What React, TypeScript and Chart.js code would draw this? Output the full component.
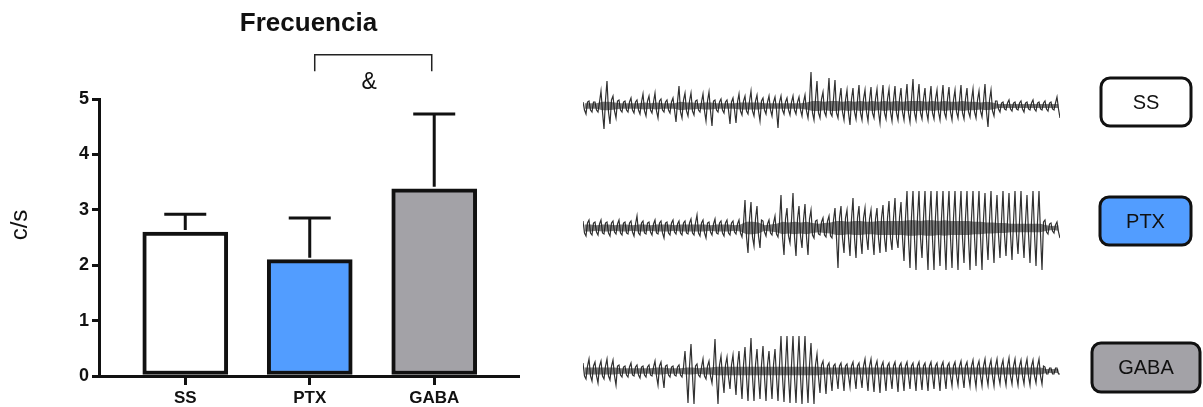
import React, { useEffect, useRef } from 'react';
import { Chart, registerables } from 'chart.js';

Chart.register(...registerables);

// ---------- Bar chart data ----------
const CATEGORIES = ['SS', 'PTX', 'GABA'];
const MEANS = [2.6, 2.1, 3.38];
const SEM = [0.32, 0.75, 1.35];
const BAR_COLORS = ['#ffffff', '#529dff', '#a3a2a7'];
const Y_TICKS = [0, 1, 2, 3, 4, 5];
const TITLE = 'Frecuencia';
const Y_TITLE = 'c/s';
const SIG_MARK = '&';

// ---------- EEG trace envelopes (upper / lower excursion per sample bin, core noise half-width) ----------
const SS_UP = [4, 5, 4, 15, 25, 10, 6, 5, 8, 6, 12, 10, 13, 7, 6, 8, 20, 13, 13, 6, 12, 14, 6, 7, 6, 8, 12, 10, 15, 11, 8, 10, 9, 10, 8, 10, 9, 11, 34, 25, 14, 28, 26, 18, 16, 18, 21, 16, 19, 17, 21, 17, 20, 18, 22, 27, 22, 18, 20, 16, 21, 19, 16, 21, 18, 17, 15, 22, 16, 5, 4, 6, 4, 5, 4, 6, 4, 5, 4, 9];
const SS_DOWN = [-8, -6, -6, -23, -18, -12, -6, -6, -7, -8, -10, -7, -12, -6, -7, -16, -12, -10, -9, -6, -15, -20, -6, -7, -18, -17, -9, -8, -10, -15, -8, -10, -22, -8, -9, -8, -10, -12, -14, -12, -10, -10, -12, -14, -19, -13, -14, -15, -12, -17, -13, -15, -14, -14, -16, -14, -13, -14, -13, -14, -12, -14, -12, -13, -11, -12, -11, -21, -10, -6, -4, -5, -4, -6, -4, -5, -4, -5, -4, -12];
const SS_CORE = [4, 4, 4, 6, 6, 5, 4, 4, 4, 4, 5, 4, 5, 4, 4, 4, 6, 5, 5, 4, 5, 5, 4, 4, 4, 4, 5, 5, 5, 5, 4, 4, 4, 4, 4, 4, 4, 5, 7, 7, 6, 7, 7, 6, 7, 6, 7, 6, 7, 6, 7, 6, 7, 6, 7, 7, 7, 6, 7, 6, 7, 6, 6, 7, 6, 6, 5, 6, 5, 3, 3, 3, 3, 3, 3, 3, 3, 3, 3, 3];

const PTX_UP = [7, 8, 6, 8, 6, 7, 8, 6, 7, 12, 7, 6, 8, 7, 6, 8, 7, 7, 9, 13, 8, 6, 9, 7, 8, 7, 8, 28, 26, 22, 7, 8, 12, 33, 20, 35, 22, 24, 18, 8, 10, 12, 20, 22, 18, 30, 22, 20, 18, 20, 23, 27, 30, 26, 37, 37, 37, 37, 37, 37, 37, 37, 37, 37, 37, 37, 37, 35, 37, 33, 37, 35, 37, 37, 33, 37, 37, 8, 5, 6];
const PTX_DOWN = [-8, -7, -7, -6, -8, -6, -7, -6, -8, -7, -6, -7, -6, -10, -7, -6, -7, -6, -7, -8, -10, -7, -6, -8, -7, -6, -9, -25, -18, -20, -8, -7, -9, -27, -15, -28, -20, -27, -10, -7, -9, -10, -40, -25, -28, -30, -26, -22, -27, -25, -24, -22, -20, -33, -40, -42, -30, -42, -42, -38, -42, -40, -42, -35, -42, -38, -42, -32, -35, -30, -28, -32, -26, -30, -35, -38, -42, -6, -5, -10];
const PTX_CORE = [5, 5, 4, 5, 5, 4, 5, 5, 4, 5, 5, 4, 5, 5, 5, 4, 5, 5, 5, 5, 5, 4, 5, 5, 5, 4, 5, 9, 9, 8, 4, 5, 6, 9, 8, 9, 8, 9, 7, 6, 7, 8, 10, 10, 9, 10, 10, 9, 9, 10, 10, 10, 10, 10, 11, 11, 10, 11, 11, 10, 11, 10, 10, 10, 10, 9, 9, 8, 8, 7, 7, 6, 6, 6, 6, 6, 6, 4, 3, 4];

const GABA_UP = [8, 12, 9, 10, 12, 11, 6, 5, 8, 6, 5, 6, 10, 9, 6, 5, 6, 20, 27, 7, 12, 10, 32, 15, 14, 16, 20, 24, 33, 22, 25, 20, 22, 35, 35, 35, 35, 35, 28, 17, 10, 8, 7, 8, 7, 9, 8, 12, 12, 10, 9, 8, 9, 8, 9, 8, 9, 8, 9, 8, 9, 8, 9, 10, 9, 11, 10, 12, 11, 12, 11, 13, 12, 11, 12, 11, 12, 4, 3, 3];
const GABA_DOWN = [-8, -10, -12, -8, -9, -14, -6, -6, -5, -7, -6, -5, -14, -17, -6, -5, -6, -32, -33, -6, -8, -12, -33, -22, -18, -24, -28, -30, -30, -28, -30, -28, -30, -31, -32, -32, -33, -32, -33, -22, -23, -20, -18, -20, -16, -18, -17, -20, -21, -22, -20, -18, -21, -20, -18, -20, -19, -20, -18, -20, -18, -15, -14, -17, -15, -16, -15, -14, -15, -13, -14, -13, -14, -13, -14, -12, -13, -3, -3, -3];
const GABA_CORE = [5, 5, 5, 5, 5, 5, 4, 4, 4, 4, 4, 4, 5, 5, 4, 4, 4, 5, 5, 4, 5, 5, 6, 6, 6, 6, 6, 6, 6, 6, 6, 6, 6, 6, 6, 6, 6, 6, 6, 6, 5, 5, 5, 5, 5, 5, 5, 5, 5, 5, 5, 5, 5, 5, 5, 5, 5, 5, 5, 5, 5, 5, 5, 5, 5, 5, 5, 5, 5, 5, 5, 5, 5, 5, 5, 5, 5, 3, 3, 3];

const SAMPLE_STEP = 6;

const FONT = '"Liberation Sans", Arial, Helvetica, sans-serif';

// one bin = spike up, core low, spike down, core high
function buildTrace(up: number[], down: number[], core: number[]) {
  const pts: { x: number; y: number }[] = [];
  const q = SAMPLE_STEP / 4;
  up.forEach((u, i) => {
    const x = i * SAMPLE_STEP;
    pts.push({ x, y: u });
    pts.push({ x: x + q, y: -core[i] });
    pts.push({ x: x + 2 * q, y: down[i] });
    pts.push({ x: x + 3 * q, y: core[i] });
  });
  return pts;
}

function buildCore(core: number[], sign: number) {
  return core.map((c, i) => ({ x: i * SAMPLE_STEP + SAMPLE_STEP / 4, y: sign * c * 0.7 }));
}

function BarChart() {
  const ref = useRef<HTMLCanvasElement | null>(null);
  useEffect(() => {
    if (!ref.current) return;
    const annot = {
      id: 'annot',
      afterDatasetsDraw(chart: any) {
        const ctx = chart.ctx;
        const xs = chart.scales.x;
        const ys = chart.scales.y;
        ctx.save();
        ctx.strokeStyle = '#111';
        ctx.lineWidth = 3;
        MEANS.forEach((m, i) => {
          const x = xs.getPixelForValue(i);
          const y0 = ys.getPixelForValue(m) - 2;
          const y1 = ys.getPixelForValue(m + SEM[i]);
          ctx.beginPath();
          ctx.moveTo(x, y0);
          ctx.lineTo(x, y1);
          ctx.moveTo(x - 21, y1);
          ctx.lineTo(x + 21, y1);
          ctx.stroke();
        });
        ctx.restore();
      },
      afterDraw(chart: any) {
        const ctx = chart.ctx;
        const xs = chart.scales.x;
        const ys = chart.scales.y;
        const area = chart.chartArea;
        ctx.save();
        ctx.fillStyle = '#111';
        ctx.textAlign = 'center';
        ctx.textBaseline = 'middle';
        ctx.font = `bold 26px ${FONT}`;
        ctx.fillText(TITLE, (area.left + area.right) / 2, 24);
        // bracket
        const bx0 = xs.getPixelForValue(1.04);
        const bx1 = xs.getPixelForValue(1.98);
        const byTop = ys.getPixelForValue(5.8);
        const byBot = ys.getPixelForValue(5.5);
        ctx.strokeStyle = '#222';
        ctx.lineWidth = 1.5;
        ctx.beginPath();
        ctx.moveTo(bx0, byBot);
        ctx.lineTo(bx0, byTop);
        ctx.lineTo(bx1, byTop);
        ctx.lineTo(bx1, byBot);
        ctx.stroke();
        ctx.font = `23px ${FONT}`;
        ctx.fillText(SIG_MARK, (bx0 + bx1) / 2 - 4, ys.getPixelForValue(5.3));
        // y title
        ctx.translate(20, 225);
        ctx.rotate(-Math.PI / 2);
        ctx.font = `24px ${FONT}`;
        ctx.fillText(Y_TITLE, 0, 0);
        ctx.restore();
      },
    };
    const chart = new Chart(ref.current, {
      type: 'bar',
      data: {
        datasets: [
          {
            data: MEANS.map((v, i) => ({ x: i, y: v })),
            backgroundColor: BAR_COLORS,
            borderColor: '#111',
            borderWidth: 4,
            borderSkipped: false,
            barThickness: 85,
          },
        ],
      },
      options: {
        animation: false,
        responsive: false,
        maintainAspectRatio: false,
        layout: { padding: { left: 0, top: 99, right: 42, bottom: 0 } },
        plugins: { legend: { display: false }, tooltip: { enabled: false }, title: { display: false } },
        scales: {
          x: {
            type: 'linear',
            offset: false,
            min: -0.693,
            max: 2.673,
            afterFit(scale: any) {
              scale.height = 31;
            },
            afterBuildTicks(scale: any) {
              scale.ticks = CATEGORIES.map((_, i) => ({ value: i }));
            },
            ticks: {
              callback: (v: any) => CATEGORIES[v as number] ?? '',
              font: { family: FONT, size: 17, weight: 'bold' },
              color: '#111',
              padding: 3,
              autoSkip: false,
              maxRotation: 0,
            },
            grid: {
              display: true,
              offset: false,
              drawOnChartArea: false,
              drawTicks: true,
              tickLength: 9,
              tickColor: '#111',
              tickWidth: 3,
              lineWidth: 3,
              color: '#111',
            },
            border: { display: true, color: '#111', width: 3 },
          },
          y: {
            min: 0,
            max: 5,
            afterFit(scale: any) {
              scale.width = 99;
            },
            afterBuildTicks(scale: any) {
              scale.ticks = Y_TICKS.map((v) => ({ value: v }));
            },
            ticks: {
              font: { family: FONT, size: 18, weight: 'bold' },
              color: '#111',
              padding: 3,
            },
            grid: {
              display: true,
              drawOnChartArea: false,
              drawTicks: true,
              tickLength: 7,
              tickColor: '#111',
              tickWidth: 3,
              lineWidth: 3,
              color: '#111',
            },
            border: { display: true, color: '#111', width: 3 },
          },
        },
      },
      plugins: [annot],
    } as any);
    return () => chart.destroy();
  }, []);
  return (
    <canvas
      ref={ref}
      width={560}
      height={407}
      style={{ position: 'absolute', left: 0, top: 0, width: 560, height: 407, display: 'block' }}
    />
  );
}

function Trace(props: { up: number[]; down: number[]; core: number[]; label: string; fill: string; top: number; box: { x0: number; x1: number; y0: number; y1: number } }) {
  const ref = useRef<HTMLCanvasElement | null>(null);
  useEffect(() => {
    if (!ref.current) return;
    const boxPlugin = {
      id: 'box',
      afterDraw(chart: any) {
        const ctx = chart.ctx;
        const b = props.box;
        ctx.save();
        ctx.beginPath();
        if (ctx.roundRect) ctx.roundRect(b.x0, b.y0, b.x1 - b.x0, b.y1 - b.y0, 9);
        else ctx.rect(b.x0, b.y0, b.x1 - b.x0, b.y1 - b.y0);
        ctx.fillStyle = props.fill;
        ctx.fill();
        ctx.lineWidth = 3;
        ctx.strokeStyle = '#111';
        ctx.stroke();
        ctx.fillStyle = '#111';
        ctx.font = `20px ${FONT}`;
        ctx.textAlign = 'center';
        ctx.textBaseline = 'middle';
        ctx.fillText(props.label, (b.x0 + b.x1) / 2, (b.y0 + b.y1) / 2 + 1);
        ctx.restore();
      },
    };
    const chart = new Chart(ref.current, {
      type: 'line',
      data: {
        datasets: [
          {
            data: buildCore(props.core, 1),
            borderColor: 'rgba(0,0,0,0)',
            backgroundColor: 'rgba(20,20,20,0.55)',
            borderWidth: 0,
            pointRadius: 0,
            tension: 0,
            fill: '+1',
          },
          {
            data: buildCore(props.core, -1),
            borderColor: 'rgba(0,0,0,0)',
            borderWidth: 0,
            pointRadius: 0,
            tension: 0,
            fill: false,
          },
          {
            data: buildTrace(props.up, props.down, props.core),
            borderColor: 'rgba(25,25,25,0.9)',
            borderWidth: 1.2,
            pointRadius: 0,
            tension: 0,
            fill: false,
          },
        ],
      },
      options: {
        animation: false,
        responsive: false,
        maintainAspectRatio: false,
        layout: { padding: { left: 0, right: 143, top: 0, bottom: 0 } },
        plugins: { legend: { display: false }, tooltip: { enabled: false } },
        scales: {
          x: { type: 'linear', min: 0, max: 477, display: false },
          y: { min: -50, max: 50, display: false },
        },
      },
      plugins: [boxPlugin],
    } as any);
    return () => chart.destroy();
  }, []);
  return (
    <canvas
      ref={ref}
      width={620}
      height={100}
      style={{ position: 'absolute', left: 583, top: props.top, width: 620, height: 100, display: 'block' }}
    />
  );
}

export default function App() {
  return (
    <div style={{ position: 'fixed', left: 0, top: 0, width: 1203, height: 407, background: '#fff', overflow: 'hidden' }}>
      <BarChart />
      <Trace up={SS_UP} down={SS_DOWN} core={SS_CORE} label="SS" fill="#ffffff" top={56} box={{ x0: 518, x1: 608, y0: 22, y1: 70 }} />
      <Trace up={PTX_UP} down={PTX_DOWN} core={PTX_CORE} label="PTX" fill="#529dff" top={178} box={{ x0: 517, x1: 608, y0: 19, y1: 67 }} />
      <Trace up={GABA_UP} down={GABA_DOWN} core={GABA_CORE} label="GABA" fill="#a3a2a7" top={321} box={{ x0: 509, x1: 617, y0: 22, y1: 71 }} />
    </div>
  );
}
